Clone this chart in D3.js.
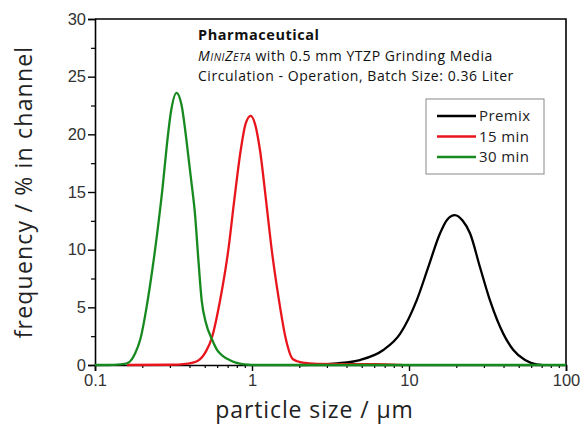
<!DOCTYPE html>
<html>
<head>
<meta charset="utf-8">
<script src="https://cdn.jsdelivr.net/npm/d3@7"></script>
<style>
  body { margin: 0; background: #fff; }
  svg { display: block; }
</style>
</head>
<body>
<svg width="582" height="428"></svg>
<script>
const svg = d3.select("svg");
const margin = { top: 19, right: 16, bottom: 63, left: 95 };
const width = +svg.attr("width") - margin.left - margin.right;
const height = +svg.attr("height") - margin.top - margin.bottom;

// particle size (µm), frequency (%)
const premixSize = [2.0, 2.6, 3.46, 4.87, 6.86, 8.77, 11.19, 13.28, 15.75, 17.5, 19.6, 22, 24.5, 28.3, 32.8, 39.9, 46.2, 54.8, 65.1, 70];
const premixFreq = [0, 0.03, 0.14, 0.43, 1.3, 2.7, 5.6, 8.5, 11.4, 12.6, 13.0, 12.5, 11.4, 8.5, 5.6, 2.7, 1.3, 0.43, 0.05, 0];

const min15Size = [0.16, 0.3, 0.38, 0.455, 0.51, 0.553, 0.626, 0.707, 0.771, 0.847, 0.91, 0.981, 1.05, 1.125, 1.228, 1.335, 1.486, 1.64, 1.824, 2.1, 2.6, 4, 6, 8, 9];
const min15Freq = [0, 0.02, 0.1, 0.4, 1.2, 2.3, 5.6, 10, 14.3, 18.6, 20.9, 21.6, 20.8, 18.6, 14.3, 10, 5.6, 2.3, 0.5, 0.2, 0.1, 0.08, 0.07, 0.04, 0];

const min30Size = [0.1, 0.12, 0.145, 0.16, 0.167, 0.18, 0.195, 0.213, 0.232, 0.251, 0.27, 0.286, 0.305, 0.331, 0.355, 0.387, 0.41, 0.434, 0.455, 0.478, 0.51, 0.553, 0.6, 0.65, 0.74, 0.85, 0.95, 1.05, 100];
const min30Freq = [0, 0, 0.05, 0.15, 0.3, 1.0, 2.3, 5, 8.3, 11.8, 15.5, 18.9, 22, 23.6, 22.6, 18.9, 16, 13, 9.2, 5.6, 3.6, 2.3, 1.3, 0.8, 0.35, 0.1, 0.02, 0, 0];

const seriesNames = ["Premix", "15 min", "30 min"];
const seriesColors = ["#000000", "#e8161c", "#178a1f"];

const xTickValues = [0.1, 1, 10, 100];
const yTickValues = [0, 5, 10, 15, 20, 25, 30];

const series = [
    { name: seriesNames[0], color: seriesColors[0], pts: d3.zip(premixSize, premixFreq) },
    { name: seriesNames[1], color: seriesColors[1], pts: d3.zip(min15Size, min15Freq) },
    { name: seriesNames[2], color: seriesColors[2], pts: d3.zip(min30Size, min30Freq) }
];

const x = d3.scaleLog().domain([0.1, 100]).range([0, width]);
const y = d3.scaleLinear().domain([0, 30]).range([height, 0]);

const g = svg.append("g").attr("transform", `translate(${margin.left},${margin.top})`);

// minor ticks
const xMinor = [];
for (let d = 0.1; d < 100; d *= 10) {
    for (let k = 2; k <= 9; k++) xMinor.push(+(d * k).toPrecision(3));
}
const yMinor = d3.range(2.5, 30, 5);

g.append("g")
    .attr("transform", `translate(0,${height})`)
    .call(d3.axisBottom(x).tickValues(xMinor).tickSize(3).tickFormat(""))
    .call(a => a.select(".domain").remove())
    .selectAll("line").attr("stroke-width", 1.2);

g.append("g")
    .call(d3.axisLeft(y).tickValues(yMinor).tickSize(4).tickFormat(""))
    .call(a => a.select(".domain").remove())
    .selectAll("line").attr("stroke-width", 1.2);

const xAxis = g.append("g")
    .attr("transform", `translate(0,${height})`)
    .call(d3.axisBottom(x).tickValues(xTickValues).tickSize(6).tickPadding(3)
        .tickFormat(d => d3.format("~g")(d)));
xAxis.select(".domain").attr("stroke-width", 1.6);
xAxis.selectAll("line").attr("stroke-width", 1.4);
xAxis.selectAll("text")
    .attr("font-family", "Liberation Sans, Arial, sans-serif")
    .attr("font-size", 16.5)
    .attr("fill", "#333");

const yAxis = g.append("g")
    .call(d3.axisLeft(y).tickValues(yTickValues).tickSize(7).tickPadding(2));
yAxis.select(".domain").attr("stroke-width", 1.6);
yAxis.selectAll("line").attr("stroke-width", 1.4);
yAxis.selectAll("text")
    .attr("font-family", "Liberation Sans, Arial, sans-serif")
    .attr("font-size", 16.5)
    .attr("fill", "#333");

// top and right frame
g.append("path")
    .attr("d", `M0,0H${width}V${height}`)
    .attr("fill", "none")
    .attr("stroke", "#000")
    .attr("stroke-width", 1.6);

const line = d3.line()
    .x(d => x(d[0]))
    .y(d => y(d[1]))
    .curve(d3.curveMonotoneX);

g.append("g")
    .selectAll("path")
    .data(series)
    .join("path")
    .attr("d", d => line(d.pts))
    .attr("fill", "none")
    .attr("stroke", d => d.color)
    .attr("stroke-width", 2.3)
    .attr("stroke-linejoin", "round");

// annotation
const note = g.append("g")
    .attr("font-family", "Open Sans, sans-serif")
    .attr("font-size", 14)
    .attr("letter-spacing", 0.55)
    .attr("fill", "#111");
note.append("text").attr("x", 103).attr("y", 21).attr("font-weight", "bold").attr("font-size", 14.5).text("Pharmaceutical");
const t2 = note.append("text").attr("x", 103).attr("y", 42);
t2.append("tspan").attr("font-style", "italic").text("M");
t2.append("tspan").attr("font-style", "italic").attr("font-size", 10.5).text("INI");
t2.append("tspan").attr("font-style", "italic").text("Z");
t2.append("tspan").attr("font-style", "italic").attr("font-size", 10.5).text("ETA");
t2.append("tspan").text(" with 0.5 mm YTZP Grinding Media");
note.append("text").attr("x", 103).attr("y", 62).text("Circulation - Operation, Batch Size: 0.36 Liter");

// legend
const legend = g.append("g").attr("transform", "translate(331,80)");
legend.append("rect")
    .attr("width", 118)
    .attr("height", 75)
    .attr("fill", "#fff")
    .attr("stroke", "#888")
    .attr("stroke-width", 1);
const item = legend.selectAll("g.item")
    .data(series)
    .join("g")
    .attr("class", "item")
    .attr("transform", (d, i) => `translate(0,${17 + i * 20.5})`);
item.append("line")
    .attr("x1", 11).attr("x2", 50)
    .attr("stroke", d => d.color)
    .attr("stroke-width", 2.3);
item.append("text")
    .attr("x", 53)
    .attr("dy", "0.35em")
    .attr("font-family", "Open Sans, sans-serif")
    .attr("font-size", 15)
    .attr("letter-spacing", 0.4)
    .attr("fill", "#222")
    .text(d => d.name);

// axis titles
svg.append("text")
    .attr("transform", `translate(32,${margin.top + height / 2}) rotate(-90)`)
    .attr("text-anchor", "middle")
    .attr("font-family", "Open Sans, sans-serif")
    .attr("font-size", 23)
    .attr("letter-spacing", 1.2)
    .attr("fill", "#222")
    .text("frequency / % in channel");

svg.append("text")
    .attr("x", margin.left + width / 2 - 16)
    .attr("y", 418)
    .attr("text-anchor", "middle")
    .attr("font-family", "Open Sans, sans-serif")
    .attr("font-size", 23)
    .attr("letter-spacing", 0.9)
    .attr("fill", "#222")
    .text("particle size / µm");
</script>
</body>
</html>
